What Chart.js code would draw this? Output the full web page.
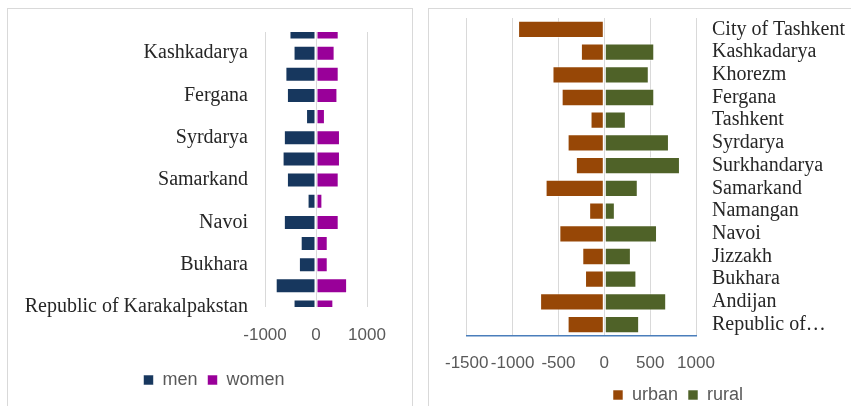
<!DOCTYPE html>
<html>
<head>
<meta charset="utf-8">
<script src="https://cdn.jsdelivr.net/npm/chart.js@4/dist/chart.umd.min.js"></script>
<style>
  html, body { margin: 0; padding: 0; background: #fff; overflow: hidden; width: 851px; height: 406px; }
  .panel { position: absolute; border: 1px solid #d9d9d9; box-sizing: border-box; }
  canvas { position: absolute; }
</style>
</head>
<body>
<div class="panel" style="left:7px;top:8px;width:406px;height:420px;"></div>
<div class="panel" style="left:428px;top:8px;width:520px;height:420px;"></div>
<canvas id="c1" width="405" height="398" style="left:7px;top:8px;width:405px;height:398px;"></canvas>
<canvas id="c2" width="464" height="410" style="left:428px;top:8px;width:464px;height:410px;"></canvas>
<script>
// ---- data ----
const regions = ["City of Tashkent", "Kashkadarya", "Khorezm", "Fergana", "Tashkent", "Syrdarya", "Surkhandarya", "Samarkand", "Namangan", "Navoi", "Jizzakh", "Bukhara", "Andijan", "Republic of Karakalpakstan"];
const men   = [-520, -440, -600, -570, -195, -630, -655, -570, -165, -630, -300, -335, -790, -440];
const women = [445, 365, 445, 420, 175, 470, 470, 445, 125, 445, 230, 230, 610, 340];
const urban = [-940, -255, -565, -465, -150, -400, -310, -640, -165, -490, -240, -210, -700, -400];
const rural = [0, 545, 485, 545, 235, 705, 825, 365, 115, 575, 290, 350, 675, 380];
const ticksLeft = [-1000, 0, 1000];
const ticksRight = [-1500, -1000, -500, 0, 500, 1000];

const serif = "'Liberation Serif', 'Times New Roman', serif";
const sans = "'Liberation Sans', Arial, sans-serif";
const gridColor = '#d9d9d9';
const tickColor = '#595959';
const labelColor = '#262626';

const mctx = document.createElement('canvas').getContext('2d');
function truncate(label, maxW) {
  mctx.font = "20px " + serif;
  if (mctx.measureText(label).width <= maxW) return label;
  const words = label.split(' ');
  let out = '';
  for (let i = 0; i < words.length; i++) {
    const cand = (out ? out + ' ' : '') + words[i];
    if (mctx.measureText(cand + '…').width > maxW) break;
    out = cand;
  }
  return out + '…';
}

const legendShift = {
  id: 'legendShift',
  afterLayout(chart, args, opts) {
    const dx = (opts && opts.dx) || 0;
    if (chart.legend && dx) { chart.legend.left += dx; chart.legend.right += dx; }
  }
};

function legendOpts() {
  return {
    display: true,
    position: 'bottom',
    labels: { boxWidth: 10, boxHeight: 10, padding: 10, color: tickColor, font: { family: sans, size: 18 } }
  };
}
function noVPad(s) { s.paddingTop = 0; s.paddingBottom = 0; }

new Chart(document.getElementById('c1'), {
  type: 'bar',
  plugins: [legendShift],
  data: {
    labels: regions,
    datasets: [
      { label: 'men', data: men, backgroundColor: '#17375e', borderColor: 'rgba(255,255,255,0.55)', borderWidth: 1, borderSkipped: false, clip: 0 },
      { label: 'women', data: women, backgroundColor: '#990099', borderColor: 'rgba(255,255,255,0.55)', borderWidth: 1, borderSkipped: false, clip: 0 }
    ]
  },
  options: {
    indexAxis: 'y',
    responsive: false,
    animation: false,
    devicePixelRatio: 1,
    layout: { padding: { top: 24, bottom: 7, left: 0, right: 45 } },
    datasets: { bar: { barPercentage: 0.71, categoryPercentage: 1 } },
    plugins: { legend: legendOpts(), legendShift: { dx: 27 }, tooltip: { enabled: false } },
    scales: {
      x: {
        stacked: true, min: -1000, max: 1000,
        afterBuildTicks: (s) => { s.ticks = ticksLeft.map(v => ({ value: v })); },
        grid: { color: gridColor, drawTicks: false, lineWidth: 1 },
        border: { display: false },
        ticks: { color: tickColor, padding: 18, autoSkip: false, maxRotation: 0, font: { family: sans, size: 17 }, callback: (v) => String(v) },
        afterFit: (s) => { s.height = 54; }
      },
      y: {
        stacked: true, offset: false,
        grid: { display: false, drawTicks: false },
        border: { display: false },
        ticks: {
          color: labelColor, padding: 17, autoSkip: false,
          font: { family: serif, size: 20 },
          callback: function (v, i) { return i % 2 === 1 ? this.getLabelForValue(v) : ''; }
        },
        afterFit: (s) => { s.width = 258; noVPad(s); }
      }
    }
  }
});

new Chart(document.getElementById('c2'), {
  type: 'bar',
  data: {
    labels: regions,
    datasets: [
      { label: 'urban', data: urban, backgroundColor: '#974706', borderColor: 'rgba(255,255,255,0.55)', borderWidth: 1, borderSkipped: false },
      { label: 'rural', data: rural, backgroundColor: '#4f6228', borderColor: 'rgba(255,255,255,0.55)', borderWidth: 1, borderSkipped: false }
    ]
  },
  options: {
    indexAxis: 'y',
    responsive: false,
    animation: false,
    devicePixelRatio: 1,
    layout: { padding: { top: 10, bottom: 4, left: 36, right: 0 } },
    datasets: { bar: { barPercentage: 0.76, categoryPercentage: 1 } },
    plugins: { legend: legendOpts(), tooltip: { enabled: false } },
    scales: {
      x: {
        stacked: true, min: -1500, max: 1000,
        afterBuildTicks: (s) => { s.ticks = ticksRight.map(v => ({ value: v })); },
        grid: { color: gridColor, drawTicks: false, lineWidth: 1 },
        border: { display: true, color: '#4a7ebb', width: 1.5 },
        ticks: { color: tickColor, padding: 17, autoSkip: false, maxRotation: 0, font: { family: sans, size: 17 }, callback: (v) => String(v) },
        afterFit: (s) => { s.height = 40; }
      },
      y: {
        position: 'right',
        stacked: true,
        grid: { display: false, drawTicks: false },
        border: { display: false },
        ticks: {
          color: labelColor, padding: 16, autoSkip: false,
          font: { family: serif, size: 20 },
          callback: function (v) { return truncate(this.getLabelForValue(v), 139); }
        },
        afterFit: (s) => { s.width = 196; noVPad(s); }
      }
    }
  }
});
</script>
</body>
</html>
